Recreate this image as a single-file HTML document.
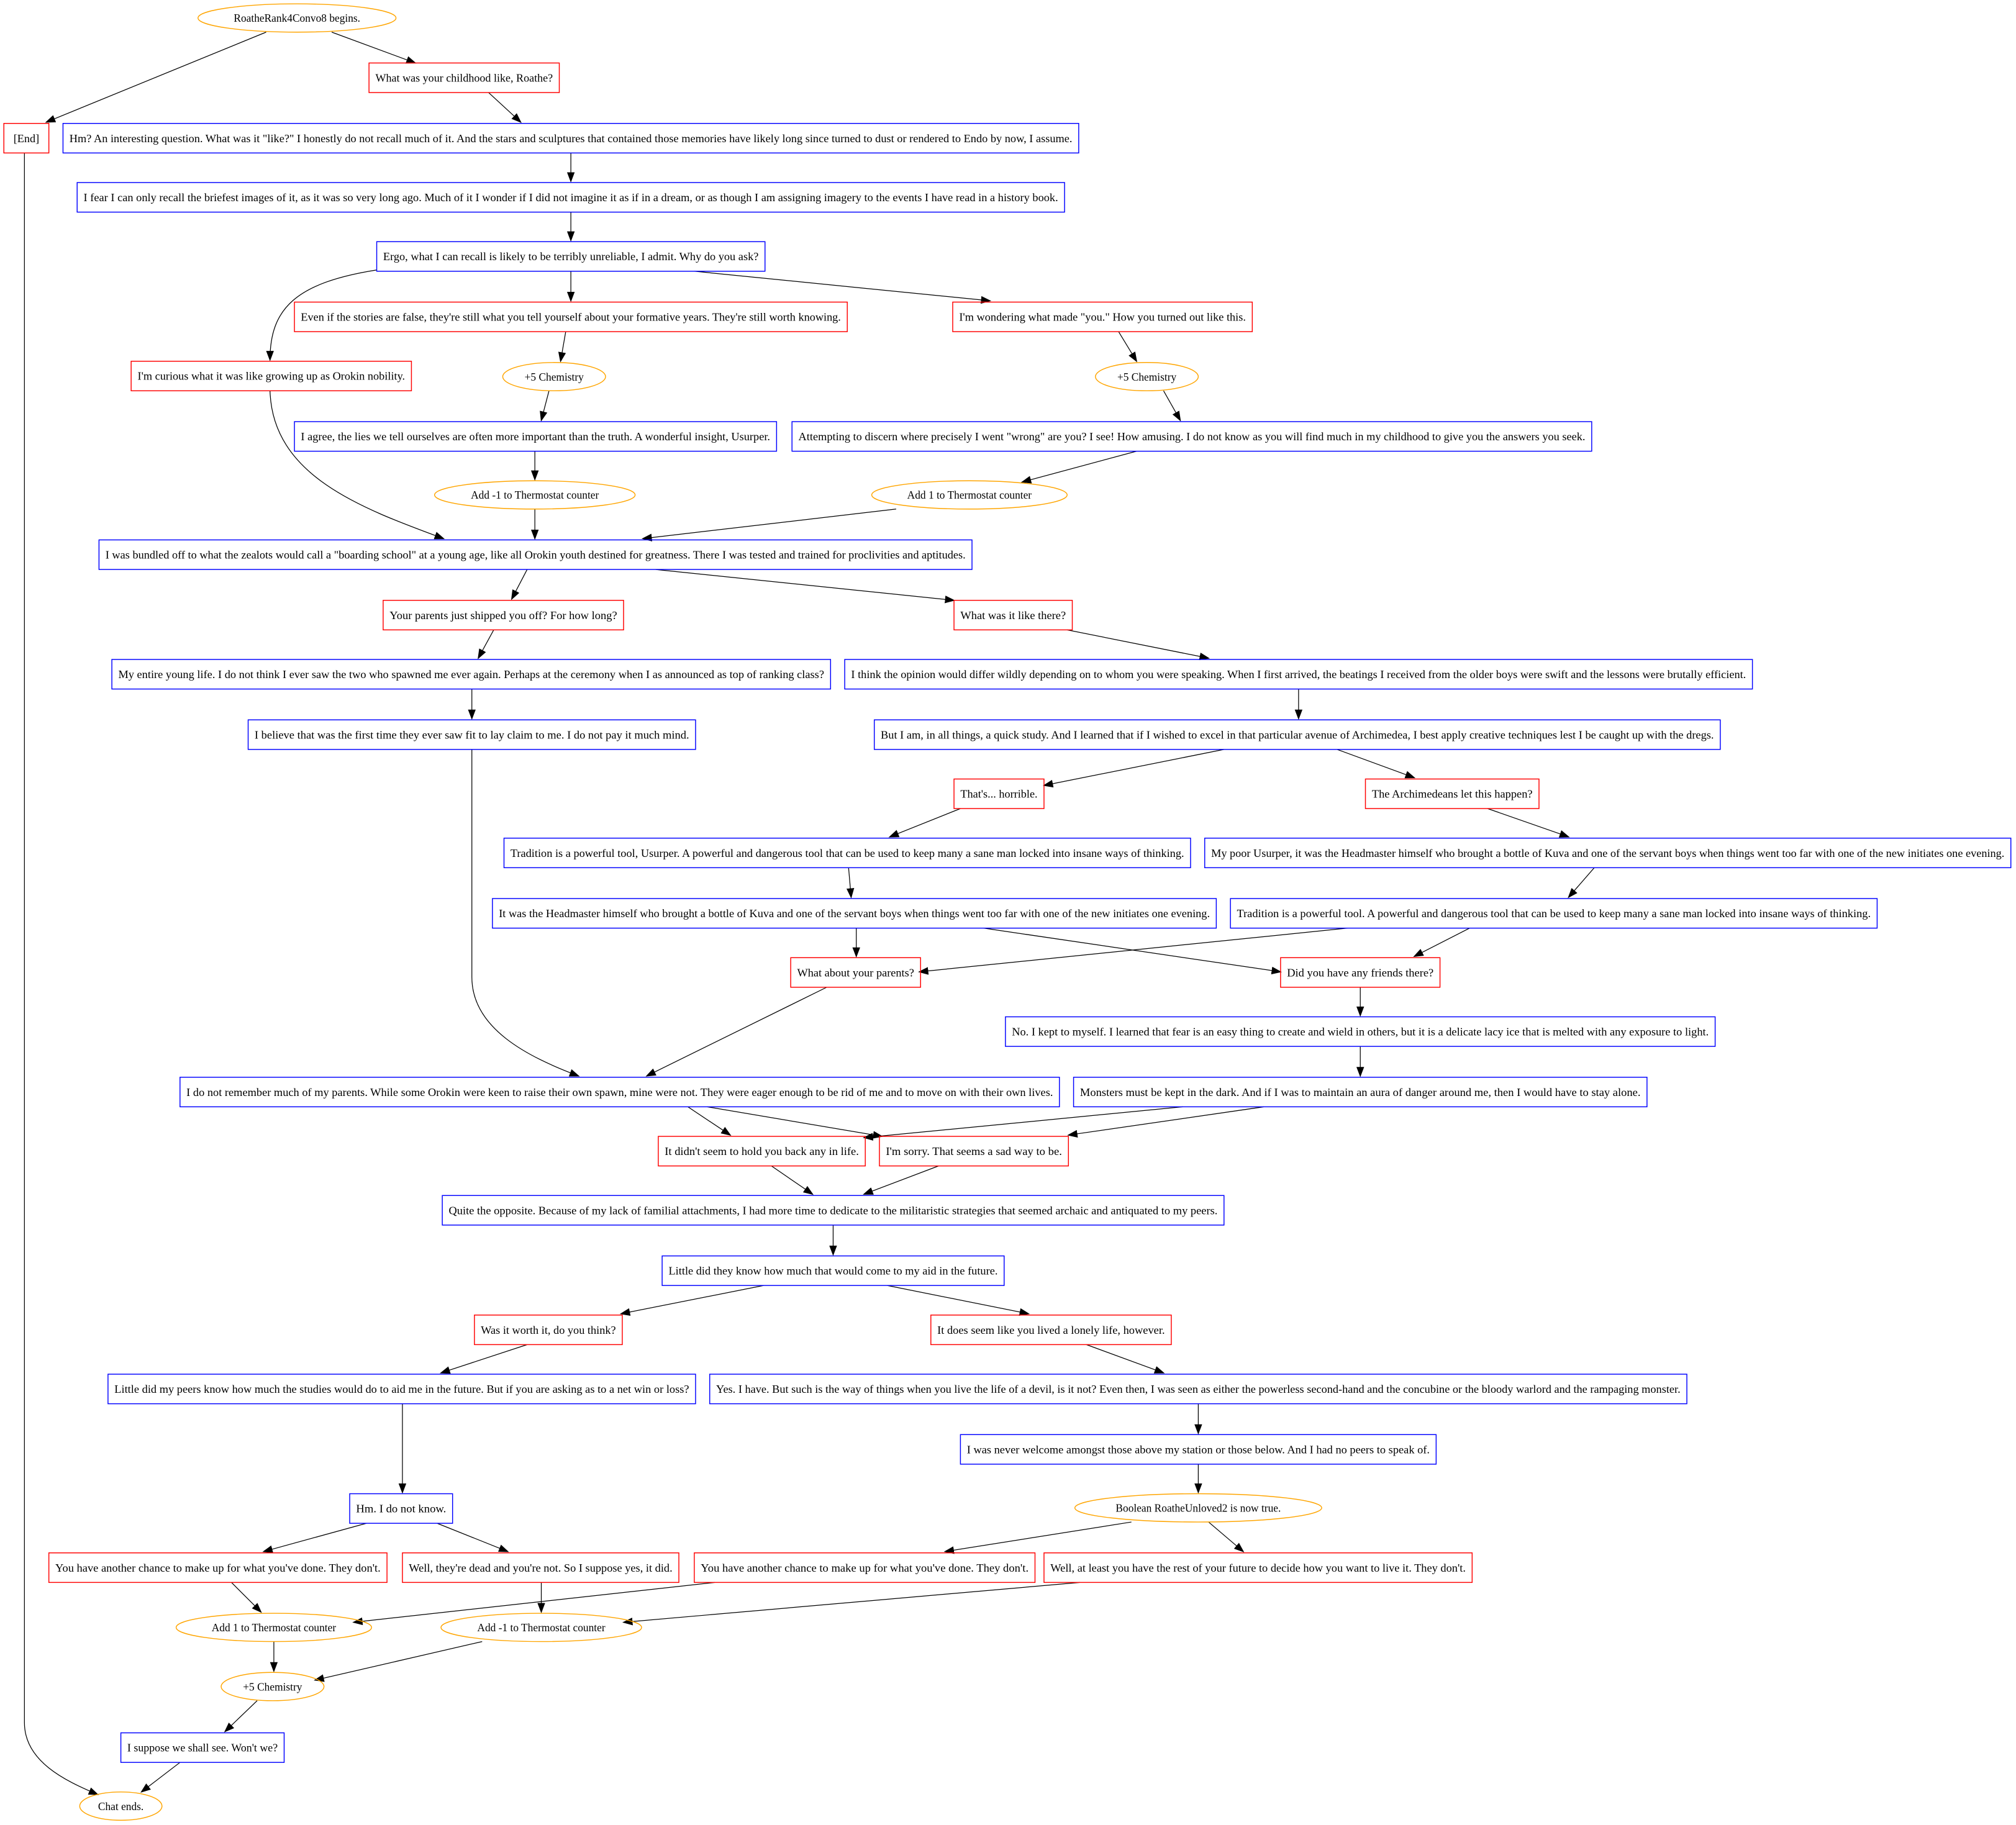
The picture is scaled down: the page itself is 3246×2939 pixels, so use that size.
<!DOCTYPE html>
<html><head><meta charset="utf-8"><style>
html,body{margin:0;padding:0;background:#fff;}
svg{display:block;}
text{font-family:"Liberation Serif",serif;font-size:8.4px;fill:#000;}
.r{fill:none;stroke:#f00;stroke-width:0.7;}
.b{fill:none;stroke:#00f;stroke-width:0.7;}
.o{fill:none;stroke:#ffa500;stroke-width:0.7;}
.e{fill:none;stroke:#000;stroke-width:0.6;marker-end:url(#a);}
</style></head><body>
<svg width="3246" height="2939" viewBox="0 0 1568 1419.7" xmlns="http://www.w3.org/2000/svg">
<defs><marker id="a" markerWidth="8" markerHeight="6" refX="7" refY="3" orient="auto" markerUnits="userSpaceOnUse"><path d="M0,0 L8,3 L0,6 z" fill="#000"/></marker></defs>

<path class="e" d="M207,25 L36,95"/>
<path class="e" d="M258,25 L323,49"/>
<path class="e" d="M380,72 L405,95"/>
<path class="e" d="M19,119 L19,1340 C19,1370 50,1385 76,1396"/>
<path class="e" d="M444,119 L444,141"/>
<path class="e" d="M444,165 L444,187"/>
<path class="e" d="M293,210 C230,220 210,240 210,280"/>
<path class="e" d="M444,211 L444,234"/>
<path class="e" d="M540,211 L770,234"/>
<path class="e" d="M440,258 L436,281"/>
<path class="e" d="M870,258 L884,281"/>
<path class="e" d="M427,304 L421,327"/>
<path class="e" d="M905,304 L918,327"/>
<path class="e" d="M210,304 C212,370 280,395 345,419"/>
<path class="e" d="M416,351 L416,373"/>
<path class="e" d="M884,351 L795,375"/>
<path class="e" d="M416,396 L416,419"/>
<path class="e" d="M697,396 L500,419"/>
<path class="e" d="M410,443 L398,466"/>
<path class="e" d="M510,443 L742,467"/>
<path class="e" d="M384,490 L372,512"/>
<path class="e" d="M830,490 L940,512"/>
<path class="e" d="M367,536 L367,559"/>
<path class="e" d="M1010,536 L1010,559"/>
<path class="e" d="M367,583 L367,760 C367,800 410,822 450,837"/>
<path class="e" d="M952,583 L812,611"/>
<path class="e" d="M1040,583 L1100,605"/>
<path class="e" d="M747,629 L692,651"/>
<path class="e" d="M1157,629 L1220,651"/>
<path class="e" d="M660,675 L662,698"/>
<path class="e" d="M1240,675 L1220,698"/>
<path class="e" d="M666,722 L666,744"/>
<path class="e" d="M765,722 L996,756"/>
<path class="e" d="M1048,722 L715,756"/>
<path class="e" d="M1143,722 L1100,744"/>
<path class="e" d="M643,768 L503,837"/>
<path class="e" d="M1058,768 L1058,790"/>
<path class="e" d="M1058,814 L1058,837"/>
<path class="e" d="M535,861 L568,883"/>
<path class="e" d="M550,861 L686,884"/>
<path class="e" d="M920,861 L672,885"/>
<path class="e" d="M983,861 L831,883"/>
<path class="e" d="M600,907 L632,929"/>
<path class="e" d="M730,907 L672,929"/>
<path class="e" d="M648,953 L648,976"/>
<path class="e" d="M594,1000 L483,1022"/>
<path class="e" d="M690,1000 L800,1022"/>
<path class="e" d="M410,1046 L343,1068"/>
<path class="e" d="M845,1046 L905,1068"/>
<path class="e" d="M313,1092 L313,1161"/>
<path class="e" d="M932,1092 L932,1115"/>
<path class="e" d="M932,1139 L932,1161"/>
<path class="e" d="M285,1185 L205,1207"/>
<path class="e" d="M340,1185 L395,1207"/>
<path class="e" d="M880,1184 L735,1207"/>
<path class="e" d="M940,1184 L967,1207"/>
<path class="e" d="M180,1231 L203,1254"/>
<path class="e" d="M421,1231 L421,1254"/>
<path class="e" d="M556,1231 L275,1262"/>
<path class="e" d="M840,1231 L485,1262"/>
<path class="e" d="M213,1277 L213,1300"/>
<path class="e" d="M375,1277 L245,1307"/>
<path class="e" d="M200,1323 L175,1347"/>
<path class="e" d="M140,1371 L110,1394"/>

<ellipse class="o" cx="231" cy="14" rx="77" ry="11"/><text x="231" y="17" text-anchor="middle">RoatheRank4Convo8 begins.</text>
<ellipse class="o" cx="431" cy="293" rx="40" ry="11"/><text x="431" y="296" text-anchor="middle">+5 Chemistry</text>
<ellipse class="o" cx="892" cy="293" rx="40" ry="11"/><text x="892" y="296" text-anchor="middle">+5 Chemistry</text>
<ellipse class="o" cx="416" cy="385" rx="78" ry="11"/><text x="416" y="388" text-anchor="middle">Add -1 to Thermostat counter</text>
<ellipse class="o" cx="754" cy="385" rx="76" ry="11"/><text x="754" y="388" text-anchor="middle">Add 1 to Thermostat counter</text>
<ellipse class="o" cx="932" cy="1173" rx="96" ry="11"/><text x="932" y="1176" text-anchor="middle">Boolean RoatheUnloved2 is now true.</text>
<ellipse class="o" cx="213" cy="1266" rx="76" ry="11"/><text x="213" y="1269" text-anchor="middle">Add 1 to Thermostat counter</text>
<ellipse class="o" cx="421" cy="1266" rx="78" ry="11"/><text x="421" y="1269" text-anchor="middle">Add -1 to Thermostat counter</text>
<ellipse class="o" cx="212" cy="1312" rx="40" ry="11"/><text x="212" y="1315" text-anchor="middle">+5 Chemistry</text>
<ellipse class="o" cx="94" cy="1405" rx="32" ry="11"/><text x="94" y="1408" text-anchor="middle">Chat ends.</text>

<rect class="r" x="287" y="49" width="148" height="23"/><text x="292" y="63.5" textLength="138" lengthAdjust="spacingAndGlyphs">What was your childhood like, Roathe?</text>
<rect class="r" x="3" y="96" width="35" height="23"/><text x="10.5" y="110.5" textLength="20" lengthAdjust="spacingAndGlyphs">[End]</text>
<rect class="b" x="49" y="96" width="790" height="23"/><text x="54" y="110.5" textLength="780" lengthAdjust="spacingAndGlyphs">Hm? An interesting question. What was it "like?" I honestly do not recall much of it. And the stars and sculptures that contained those memories have likely long since turned to dust or rendered to Endo by now, I assume.</text>
<rect class="b" x="60" y="142" width="768" height="23"/><text x="65" y="156.5" textLength="758" lengthAdjust="spacingAndGlyphs">I fear I can only recall the briefest images of it, as it was so very long ago. Much of it I wonder if I did not imagine it as if in a dream, or as though I am assigning imagery to the events I have read in a history book.</text>
<rect class="b" x="293" y="188" width="302" height="23"/><text x="298" y="202.5" textLength="292" lengthAdjust="spacingAndGlyphs">Ergo, what I can recall is likely to be terribly unreliable, I admit. Why do you ask?</text>
<rect class="r" x="229" y="235" width="430" height="23"/><text x="234" y="249.5" textLength="420" lengthAdjust="spacingAndGlyphs">Even if the stories are false, they're still what you tell yourself about your formative years. They're still worth knowing.</text>
<rect class="r" x="741" y="235" width="233" height="23"/><text x="746" y="249.5" textLength="223" lengthAdjust="spacingAndGlyphs">I'm wondering what made "you." How you turned out like this.</text>
<rect class="r" x="102" y="281" width="218" height="23"/><text x="107" y="295.5" textLength="208" lengthAdjust="spacingAndGlyphs">I'm curious what it was like growing up as Orokin nobility.</text>
<rect class="b" x="229" y="328" width="375" height="23"/><text x="234" y="342.5" textLength="365" lengthAdjust="spacingAndGlyphs">I agree, the lies we tell ourselves are often more important than the truth. A wonderful insight, Usurper.</text>
<rect class="b" x="616" y="328" width="622" height="23"/><text x="621" y="342.5" textLength="612" lengthAdjust="spacingAndGlyphs">Attempting to discern where precisely I went "wrong" are you? I see! How amusing. I do not know as you will find much in my childhood to give you the answers you seek.</text>
<rect class="b" x="77" y="420" width="679" height="23"/><text x="82" y="434.5" textLength="669" lengthAdjust="spacingAndGlyphs">I was bundled off to what the zealots would call a "boarding school" at a young age, like all Orokin youth destined for greatness. There I was tested and trained for proclivities and aptitudes.</text>
<rect class="r" x="298" y="467" width="187" height="23"/><text x="303" y="481.5" textLength="177" lengthAdjust="spacingAndGlyphs">Your parents just shipped you off? For how long?</text>
<rect class="r" x="742" y="467" width="92" height="23"/><text x="747" y="481.5" textLength="82" lengthAdjust="spacingAndGlyphs">What was it like there?</text>
<rect class="b" x="87" y="513" width="559" height="23"/><text x="92" y="527.5" textLength="549" lengthAdjust="spacingAndGlyphs">My entire young life. I do not think I ever saw the two who spawned me ever again. Perhaps at the ceremony when I as announced as top of ranking class?</text>
<rect class="b" x="657" y="513" width="706" height="23"/><text x="662" y="527.5" textLength="696" lengthAdjust="spacingAndGlyphs">I think the opinion would differ wildly depending on to whom you were speaking. When I first arrived, the beatings I received from the older boys were swift and the lessons were brutally efficient.</text>
<rect class="b" x="193" y="560" width="348" height="23"/><text x="198" y="574.5" textLength="338" lengthAdjust="spacingAndGlyphs">I believe that was the first time they ever saw fit to lay claim to me. I do not pay it much mind.</text>
<rect class="b" x="680" y="560" width="658" height="23"/><text x="685" y="574.5" textLength="648" lengthAdjust="spacingAndGlyphs">But I am, in all things, a quick study. And I learned that if I wished to excel in that particular avenue of Archimedea, I best apply creative techniques lest I be caught up with the dregs.</text>
<rect class="r" x="742" y="606" width="70" height="23"/><text x="747" y="620.5" textLength="60" lengthAdjust="spacingAndGlyphs">That's... horrible.</text>
<rect class="r" x="1062" y="606" width="135" height="23"/><text x="1067" y="620.5" textLength="125" lengthAdjust="spacingAndGlyphs">The Archimedeans let this happen?</text>
<rect class="b" x="392" y="652" width="534" height="23"/><text x="397" y="666.5" textLength="524" lengthAdjust="spacingAndGlyphs">Tradition is a powerful tool, Usurper. A powerful and dangerous tool that can be used to keep many a sane man locked into insane ways of thinking.</text>
<rect class="b" x="937" y="652" width="627" height="23"/><text x="942" y="666.5" textLength="617" lengthAdjust="spacingAndGlyphs">My poor Usurper, it was the Headmaster himself who brought a bottle of Kuva and one of the servant boys when things went too far with one of the new initiates one evening.</text>
<rect class="b" x="383" y="699" width="563" height="23"/><text x="388" y="713.5" textLength="553" lengthAdjust="spacingAndGlyphs">It was the Headmaster himself who brought a bottle of Kuva and one of the servant boys when things went too far with one of the new initiates one evening.</text>
<rect class="b" x="957" y="699" width="503" height="23"/><text x="962" y="713.5" textLength="493" lengthAdjust="spacingAndGlyphs">Tradition is a powerful tool. A powerful and dangerous tool that can be used to keep many a sane man locked into insane ways of thinking.</text>
<rect class="r" x="615" y="745" width="101" height="23"/><text x="620" y="759.5" textLength="91" lengthAdjust="spacingAndGlyphs">What about your parents?</text>
<rect class="r" x="996" y="745" width="124" height="23"/><text x="1001" y="759.5" textLength="114" lengthAdjust="spacingAndGlyphs">Did you have any friends there?</text>
<rect class="b" x="782" y="791" width="552" height="23"/><text x="787" y="805.5" textLength="542" lengthAdjust="spacingAndGlyphs">No. I kept to myself. I learned that fear is an easy thing to create and wield in others, but it is a delicate lacy ice that is melted with any exposure to light.</text>
<rect class="b" x="140" y="838" width="684" height="23"/><text x="145" y="852.5" textLength="674" lengthAdjust="spacingAndGlyphs">I do not remember much of my parents. While some Orokin were keen to raise their own spawn, mine were not. They were eager enough to be rid of me and to move on with their own lives.</text>
<rect class="b" x="835" y="838" width="446" height="23"/><text x="840" y="852.5" textLength="436" lengthAdjust="spacingAndGlyphs">Monsters must be kept in the dark. And if I was to maintain an aura of danger around me, then I would have to stay alone.</text>
<rect class="r" x="512" y="884" width="161" height="23"/><text x="517" y="898.5" textLength="151" lengthAdjust="spacingAndGlyphs">It didn't seem to hold you back any in life.</text>
<rect class="r" x="684" y="884" width="147" height="23"/><text x="689" y="898.5" textLength="137" lengthAdjust="spacingAndGlyphs">I'm sorry. That seems a sad way to be.</text>
<rect class="b" x="344" y="930" width="608" height="23"/><text x="349" y="944.5" textLength="598" lengthAdjust="spacingAndGlyphs">Quite the opposite. Because of my lack of familial attachments, I had more time to dedicate to the militaristic strategies that seemed archaic and antiquated to my peers.</text>
<rect class="b" x="515" y="977" width="266" height="23"/><text x="520" y="991.5" textLength="256" lengthAdjust="spacingAndGlyphs">Little did they know how much that would come to my aid in the future.</text>
<rect class="r" x="369" y="1023" width="115" height="23"/><text x="374" y="1037.5" textLength="105" lengthAdjust="spacingAndGlyphs">Was it worth it, do you think?</text>
<rect class="r" x="724" y="1023" width="187" height="23"/><text x="729" y="1037.5" textLength="177" lengthAdjust="spacingAndGlyphs">It does seem like you lived a lonely life, however.</text>
<rect class="b" x="84" y="1069" width="457" height="23"/><text x="89" y="1083.5" textLength="447" lengthAdjust="spacingAndGlyphs">Little did my peers know how much the studies would do to aid me in the future. But if you are asking as to a net win or loss?</text>
<rect class="b" x="552" y="1069" width="760" height="23"/><text x="557" y="1083.5" textLength="750" lengthAdjust="spacingAndGlyphs">Yes. I have. But such is the way of things when you live the life of a devil, is it not? Even then, I was seen as either the powerless second-hand and the concubine or the bloody warlord and the rampaging monster.</text>
<rect class="b" x="747" y="1116" width="370" height="23"/><text x="752" y="1130.5" textLength="360" lengthAdjust="spacingAndGlyphs">I was never welcome amongst those above my station or those below. And I had no peers to speak of.</text>
<rect class="b" x="272" y="1162" width="80" height="23"/><text x="277" y="1176.5" textLength="70" lengthAdjust="spacingAndGlyphs">Hm. I do not know.</text>
<rect class="r" x="38" y="1208" width="263" height="23"/><text x="43" y="1222.5" textLength="253" lengthAdjust="spacingAndGlyphs">You have another chance to make up for what you've done. They don't.</text>
<rect class="r" x="313" y="1208" width="215" height="23"/><text x="318" y="1222.5" textLength="205" lengthAdjust="spacingAndGlyphs">Well, they're dead and you're not. So I suppose yes, it did.</text>
<rect class="r" x="540" y="1208" width="265" height="23"/><text x="545" y="1222.5" textLength="255" lengthAdjust="spacingAndGlyphs">You have another chance to make up for what you've done. They don't.</text>
<rect class="r" x="812" y="1208" width="333" height="23"/><text x="817" y="1222.5" textLength="323" lengthAdjust="spacingAndGlyphs">Well, at least you have the rest of your future to decide how you want to live it. They don't.</text>
<rect class="b" x="94" y="1348" width="127" height="23"/><text x="99" y="1362.5" textLength="117" lengthAdjust="spacingAndGlyphs">I suppose we shall see. Won't we?</text>
</svg>
</body></html>
